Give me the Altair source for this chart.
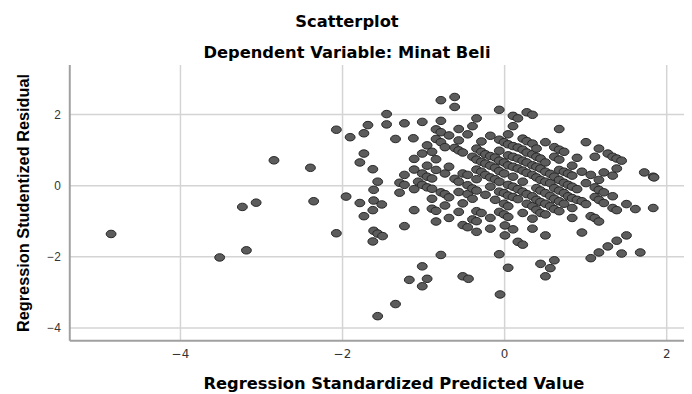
import altair as alt
import pandas as pd

# Regression Standardized Predicted Value (x) and Studentized Residual (y)
pred = [
    -4.85, -3.51, -3.23, -3.06, -3.18, -2.84, -2.39, -2.35, -2.07, -2.07,
    -1.95, -1.90, -1.78, -1.78, -1.73, -1.73, -1.68, -1.73, -1.62, -1.56,
    -1.61, -1.61, -1.62, -1.51, -1.61, -1.56, -1.50, -1.62, -1.56, -1.45,
    -1.45, -1.34, -1.34, -1.23, -1.23, -1.29, -1.23, -1.29, -1.23, -1.17,
    -1.12, -1.11, -1.11, -1.11, -1.11, -1.06, -1.01, -1.01, -1.01, -1.01,
    -1.01, -1.01, -0.95, -0.95, -0.95, -0.95, -0.95, -0.89, -0.89, -0.89,
    -0.89, -0.89, -0.84, -0.84, -0.84, -0.84, -0.84, -0.84, -0.78, -0.78,
    -0.78, -0.78, -0.78, -0.78, -0.73, -0.73, -0.73, -0.73, -0.68, -0.68,
    -0.68, -0.68, -0.61, -0.61, -0.61, -0.61, -0.56, -0.56, -0.56, -0.56,
    -0.56, -0.56, -0.51, -0.51, -0.51, -0.51, -0.51, -0.45, -0.45, -0.45,
    -0.45, -0.45, -0.44, -0.39, -0.39, -0.39, -0.39, -0.39, -0.34, -0.34,
    -0.34, -0.34, -0.34, -0.34, -0.34, -0.34, -0.34, -0.28, -0.28, -0.28,
    -0.28, -0.28, -0.23, -0.23, -0.23, -0.23, -0.17, -0.17, -0.17, -0.17,
    -0.17, -0.17, -0.17, -0.11, -0.11, -0.11, -0.11, -0.06, -0.06, -0.06,
    -0.06, -0.06, -0.06, -0.06, -0.06, -0.06, -0.05, 0.00, 0.00, 0.00,
    0.00, 0.00, 0.00, 0.01, 0.01, 0.05, 0.05, 0.05, 0.05, 0.05,
    0.05, 0.05, 0.05, 0.05, 0.11, 0.11, 0.11, 0.11, 0.11, 0.11,
    0.11, 0.11, 0.11, 0.17, 0.17, 0.17, 0.17, 0.17, 0.17, 0.17,
    0.23, 0.23, 0.23, 0.23, 0.23, 0.23, 0.23, 0.23, 0.28, 0.28,
    0.28, 0.28, 0.28, 0.28, 0.28, 0.35, 0.35, 0.35, 0.35, 0.35,
    0.35, 0.35, 0.35, 0.35, 0.40, 0.40, 0.40, 0.40, 0.40, 0.40,
    0.40, 0.45, 0.45, 0.45, 0.45, 0.45, 0.45, 0.45, 0.51, 0.51,
    0.51, 0.51, 0.51, 0.51, 0.51, 0.51, 0.51, 0.57, 0.57, 0.57,
    0.57, 0.57, 0.62, 0.62, 0.62, 0.62, 0.62, 0.62, 0.62, 0.68,
    0.68, 0.68, 0.68, 0.68, 0.68, 0.68, 0.68, 0.74, 0.74, 0.74,
    0.74, 0.74, 0.79, 0.79, 0.79, 0.84, 0.84, 0.84, 0.84, 0.84,
    0.84, 0.90, 0.90, 0.90, 0.96, 0.96, 0.96, 1.01, 1.01, 1.01,
    1.07, 1.07, 1.07, 1.12, 1.12, 1.12, 1.12, 1.17, 1.17, 1.17,
    1.17, 1.17, 1.17, 1.23, 1.23, 1.23, 1.28, 1.28, 1.34, 1.34,
    1.34, 1.34, 1.39, 1.39, 1.39, 1.39, 1.45, 1.45, 1.51, 1.51,
    1.62, 1.68, 1.73, 1.84, 1.85, 1.84,
]
resid = [
    -1.37, -2.03, -0.61, -0.49, -1.83, 0.70, 0.49, -0.45, 1.56, -1.35,
    -0.32, 1.35, 0.64, -0.50, 0.89, 1.46, 1.69, -0.87, 0.45, 0.10,
    -0.13, -0.43, -0.70, -0.54, -1.28, -1.36, -1.43, -1.58, -3.68, 2.00,
    1.71, 1.30, -3.34, 1.74, 0.29, 0.07, 0.01, -0.21, -1.15, -2.66,
    1.32, 0.74, 0.44, -0.11, -0.70, 0.10, 1.78, 0.89, 0.33, 0.01,
    -2.28, -2.84, 1.12, 0.55, 0.24, -0.06, -2.63, 0.94, 0.19, -0.10,
    -0.38, -0.66, 1.57, 1.30, 0.73, 0.43, -0.72, -1.02, 2.39, 1.81,
    1.49, 1.21, -0.20, -1.96, 1.07, 0.33, -0.25, -0.57, 1.40, 0.52,
    -0.34, -0.92, 2.20, 2.48, 1.05, 0.18, 1.58, 1.26, 0.98, 0.10,
    -0.19, -0.75, 0.92, 0.33, -0.51, -1.12, -2.56, 1.43, 0.29, 0.00,
    -0.25, -1.18, -2.63, 1.66, 0.80, -0.09, -0.38, -0.96, 1.88, 1.03,
    0.72, 0.44, 0.17, -0.15, -0.73, -1.01, -1.31, 1.23, 0.94, 0.66,
    0.38, -0.78, 0.87, 0.61, 0.29, -0.27, 1.39, 0.82, 0.55, 0.22,
    -0.04, -0.92, -1.22, 0.78, 0.49, 0.17, -0.41, 2.12, 1.28, 0.97,
    0.69, 0.40, 0.10, -0.18, -0.75, -1.94, -3.07, 1.21, 0.64, 0.33,
    -0.22, -0.52, -0.82, -1.13, -1.41, 1.43, 1.15, 0.84, 0.56, 0.01,
    -0.29, -0.59, -0.89, -2.32, 1.66, 1.95, 1.10, 0.80, 0.52, 0.24,
    -0.04, -0.33, -1.24, 1.88, 1.06, 0.75, 0.47, -0.11, -0.39, -1.59,
    1.31, 1.00, 0.69, 0.41, 0.10, -0.18, -0.78, -1.67, 2.05, 1.24,
    0.92, 0.64, 0.35, -0.25, -0.52, 1.98, 1.17, 0.87, 0.56, 0.29,
    -0.31, -0.59, -0.94, -1.22, 1.03, 0.80, 0.52, 0.22, -0.08, -0.41,
    -0.69, 0.75, 0.47, 0.15, -0.15, -0.47, -0.78, -2.21, 1.21, 0.64,
    0.38, 0.10, -0.22, -0.52, -0.82, -1.41, -2.56, 0.32, 0.06, -0.30,
    -0.59, -2.33, 1.07, 0.80, 0.24, -0.08, -0.38, -0.67, -2.11, 1.58,
    1.00, 0.72, 0.43, 0.15, -0.15, -0.45, -0.73, 0.94, 0.38, 0.07,
    -0.22, -0.52, 0.33, 0.01, -0.31, 0.55, 0.27, -0.04, -0.36, -0.64,
    -0.92, 0.77, -0.11, -0.41, 0.38, -0.45, -1.33, 1.21, 0.06, -0.53,
    0.29, -0.87, -2.05, 0.80, -0.33, -0.92, -0.06, 1.03, 0.15, -0.13,
    -0.41, -1.02, -1.89, 0.36, -0.20, -0.50, 0.89, -1.72, 0.80, 0.27,
    -0.31, -0.64, 0.75, 0.47, -0.70, -1.56, 0.69, -1.92, -0.53, -1.41,
    -0.67, -1.89, 0.36, 0.24, 0.22, -0.64,
]

df = pd.DataFrame({"pred": pred, "resid": resid})

NARROW = "Liberation Sans"
WIDE = "DejaVu Sans"
ticks = [-4, -2, 0, 2]
ELLIPSE = "M -1,0 A 1,0.76 0 1,0 1,0 A 1,0.76 0 1,0 -1,0 Z"

chart = (
    alt.Chart(df)
    .mark_point(
        shape=ELLIPSE, size=100, filled=True,
        fill="#5c5c5c", stroke="#262626", strokeWidth=1, opacity=1, fillOpacity=1,
    )
    .encode(
        x=alt.X(
            "pred:Q",
            scale=alt.Scale(domain=[-5.366, 2.22], nice=False, zero=False),
            axis=alt.Axis(
                title="Regression Standardized Predicted Value",
                values=ticks, format="d", grid=True, ticks=False,
                labelFont=WIDE, labelFontSize=12,
                labelPadding=8, titlePadding=17,
                titleFont=WIDE, titleFontSize=16.5,
                titleX=328, titleAlign="center",
            ),
        ),
        y=alt.Y(
            "resid:Q",
            scale=alt.Scale(domain=[-4.36, 3.39], nice=False, zero=False),
            axis=alt.Axis(
                title="Regression Studentized Residual",
                values=ticks, format="d", grid=True, ticks=False,
                labelFont=NARROW, labelFontSize=12,
                labelPadding=9, titlePadding=16,
                titleFont=NARROW, titleFontSize=16.5,
            ),
        ),
    )
    .properties(
        width=622,
        height=279,
        padding={"left": 62, "top": 55, "right": 0, "bottom": 52},
        autosize=alt.AutoSizeParams(type="none"),
        title=alt.Title(
            "Scatterplot",
            subtitle="Dependent Variable: Minat Beli",
            font=WIDE, fontSize=16.5, fontWeight="bold", color="#000000",
            subtitleFont=WIDE, subtitleFontSize=16.5, subtitleFontWeight="bold",
            subtitleColor="#000000", subtitlePadding=15,
            anchor="middle", dx=-30, offset=3,
        ),
    )
    .configure_view(stroke=None)
    .configure_axis(
        labelColor="#333333",
        titleFontWeight="bold", titleColor="#000000",
        gridColor="#d4d4d4", gridWidth=1.5,
        domainColor="#a0a0a0", domainWidth=2,
    )
)

chart.save("out.html", embed_options={"renderer": "svg", "actions": False})
